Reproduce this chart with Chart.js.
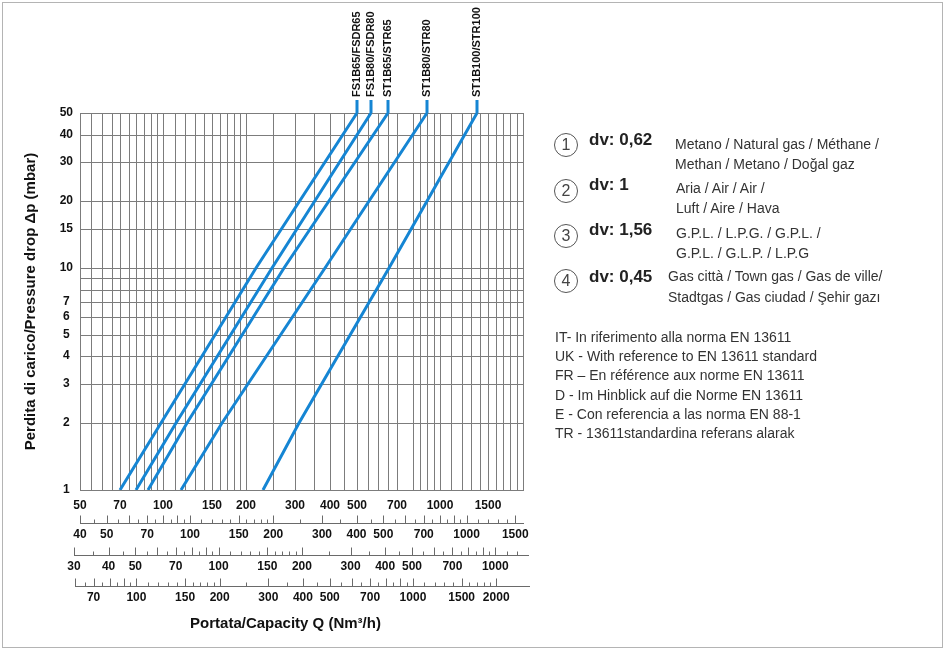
<!DOCTYPE html>
<html>
<head>
<meta charset="utf-8">
<script src="https://cdn.jsdelivr.net/npm/chart.js@4.4.1/dist/chart.umd.min.js"></script>
<style>
  body { margin: 0; background: #fff; }
  #wrap { position: relative; width: 946px; height: 652px; overflow: hidden;
          font-family: "Liberation Sans", Arial, sans-serif; color: #333; }
  #c { position: absolute; left: 0; top: 0; }
  .frame { position: absolute; left: 2px; top: 2px; width: 941px; height: 646px;
           border: 1px solid #b4b4b4; box-sizing: border-box; }
  .circ { position: absolute; left: 554px; width: 24px; height: 24px; border: 1px solid #555;
          border-radius: 50%; box-sizing: border-box; font-size: 16px; line-height: 22px;
          text-align: center; color: #444; }
  .dv { position: absolute; left: 589px; font-weight: bold; font-size: 17px; line-height: 20px; color: #222; white-space: nowrap; }
  .desc { position: absolute; font-size: 14px; line-height: 20px; color: #333; white-space: nowrap; }
  .norm { position: absolute; left: 555px; top: 328px; font-size: 14px; line-height: 19.2px; color: #333; white-space: nowrap; }
</style>
</head>
<body>
<div id="wrap">
  <canvas id="c" width="946" height="652"></canvas>
  <div class="frame"></div>

  <div class="circ" style="top:133px">1</div>
  <div class="dv" style="top:130px">dv: 0,62</div>
  <div class="desc" style="left:675px;top:134px">Metano / Natural gas / Méthane /<br>Methan / Metano / Doğal gaz</div>

  <div class="circ" style="top:179px">2</div>
  <div class="dv" style="top:175px">dv: 1</div>
  <div class="desc" style="left:676px;top:178px">Aria / Air / Air /<br>Luft / Aire / Hava</div>

  <div class="circ" style="top:224px">3</div>
  <div class="dv" style="top:220px">dv: 1,56</div>
  <div class="desc" style="left:676px;top:223px">G.P.L. / L.P.G. / G.P.L. /<br>G.P.L. / G.L.P. / L.P.G</div>

  <div class="circ" style="top:269px">4</div>
  <div class="dv" style="top:267px">dv: 0,45</div>
  <div class="desc" style="left:668px;top:266px;line-height:21px">Gas città / Town gas / Gas de ville/<br>Stadtgas / Gas ciudad / Şehir gazı</div>

  <div class="norm">IT- In riferimento alla norma EN 13611<br>UK - With reference to EN 13611 standard<br>FR – En référence aux norme EN 13611<br>D - Im Hinblick auf die Norme EN 13611<br>E - Con referencia a las norma EN 88-1<br>TR - 13611standardina referans alarak</div>
</div>

<script>
// ---------------- data ----------------
const pressureDrop = [1, 2, 10, 50];                 // mbar, y values of the read points
const seriesNames = ['FS1B65/FSDR65', 'FS1B80/FSDR80', 'ST1B65/STR65', 'ST1B80/STR80', 'ST1B100/STR100'];
const qFS1B65  = [70, 98, 217, 500];                 // Nm3/h (natural gas scale)
const qFS1B80  = [80, 111, 247, 565];
const qST1B65  = [88, 122, 273, 652];
const qST1B80  = [116, 163, 386, 900];
const qST1B100 = [229, 311, 655, 1360];

// y axis
const yGrid   = [1, 2, 3, 4, 5, 6, 7, 8, 9, 10, 15, 20, 30, 40, 50];
const yLabels = [1, 2, 3, 4, 5, 6, 7, 10, 15, 20, 30, 40, 50];

// main (natural gas) x axis
const qGrid = [50, 55, 60, 65, 70, 75, 80, 85, 90, 95, 100, 110, 120, 130, 140, 150, 160, 170, 180, 190, 200,
               250, 300, 350, 400, 450, 500, 550, 600, 650, 700, 800, 850, 900, 950, 1000,
               1100, 1200, 1300, 1400, 1500, 1600, 1700, 1800, 1900, 2000];
const qLabels = [50, 70, 100, 150, 200, 300, 400, 500, 700, 1000, 1500];

// secondary scales (air, LPG, town gas)
const airLabels = [40, 50, 70, 100, 150, 200, 300, 400, 500, 700, 1000, 1500];
const airMajor  = [40, 50, 60, 70, 80, 90, 100, 150, 200, 300, 400, 500, 600, 700, 800, 900, 1000, 1500];
const airMinor  = [45, 55, 65, 75, 85, 95, 110, 120, 130, 140, 160, 170, 180, 190, 250, 350, 450, 550, 650, 750, 850, 950, 1100, 1200, 1300, 1400];

const lpgLabels = [30, 40, 50, 70, 100, 150, 200, 300, 400, 500, 700, 1000];
const lpgMajor  = [30, 40, 50, 60, 70, 80, 90, 100, 150, 200, 300, 400, 500, 600, 700, 800, 900, 1000];
const lpgMinor  = [35, 45, 55, 65, 75, 85, 95, 110, 120, 130, 140, 160, 170, 180, 190, 250, 350, 450, 550, 650, 750, 850, 950, 1100, 1200];

const townLabels = [70, 100, 150, 200, 300, 400, 500, 700, 1000, 1500, 2000];
const townMajor  = [60, 70, 80, 90, 100, 150, 200, 300, 400, 500, 600, 700, 800, 900, 1000, 1500, 2000];
const townMinor  = [65, 75, 85, 95, 110, 120, 130, 140, 160, 170, 180, 190, 250, 350, 450, 550, 650, 750, 850, 950, 1100, 1200, 1300, 1400, 1600, 1700, 1800, 1900];

// scale ratios of the secondary rulers against the main one
const airFactor = 0.8, lpgFactor = 0.63, townFactor = 1.25;
const qMin = 50, qMax = 2000;

// ---------------- chart ----------------
const FONT = '"Liberation Sans", Arial, sans-serif';
const gridColor = '#7c7c7c';
const lineColor = '#1585d3';
const seriesQ = [qFS1B65, qFS1B80, qST1B65, qST1B80, qST1B100];

const setTicks = vals => s => { s.ticks = vals.map(v => ({ value: v })); };
const showIf = list => v => (list.includes(v) ? String(v) : '');
const fixH = h => s => { s.height = h; };
const tickFont = { family: FONT, size: 12, weight: 'bold' };

function rulerAxis(weight, min, max, labels, h) {
  return {
    type: 'logarithmic', position: 'bottom', weight, min, max, bounds: 'data',
    afterBuildTicks: setTicks(labels), afterFit: fixH(h),
    grid: { display: false, drawTicks: false }, border: { display: false },
    ticks: { autoSkip: false, maxRotation: 0, padding: 15, color: '#111', font: tickFont,
             callback: v => String(v) }
  };
}

const rulers = [
  { id: 'x2', major: airMajor, minor: airMinor, from: 40, ext: 1 },
  { id: 'x3', major: lpgMajor, minor: lpgMinor, from: 30, ext: 6 },
  { id: 'x4', major: townMajor, minor: townMinor, from: 60, ext: 7 }
];

const rulerPlugin = {
  id: 'rulers',
  afterLayout(chart) {
    const x = chart.scales.x;
    // LPG ruler starts at 30, a little left of the plot, as printed
    const s3 = chart.scales.x3;
    s3.left = x.getPixelForValue(s3.options.min / lpgFactor);
    s3.configure();
    // axis title centred under the rulers as in the print
    const t = chart.scales.xt;
    t.left = 285.5 - 200; t.right = 285.5 + 200;
    t.configure();
  },
  afterDraw(chart) {
    const ctx = chart.ctx;
    ctx.save();
    ctx.strokeStyle = '#6a6a6a';
    ctx.lineWidth = 1;
    rulers.forEach(r => {
      const s = chart.scales[r.id];
      const base = Math.round(s.top + 11) + 0.5;
      ctx.beginPath();
      ctx.moveTo(Math.round(s.getPixelForValue(r.from)), base);
      ctx.lineTo(chart.chartArea.right + r.ext, base);
      r.major.forEach(v => { const p = Math.round(s.getPixelForValue(v)) + 0.5; ctx.moveTo(p, base); ctx.lineTo(p, base - 8); });
      r.minor.forEach(v => { const p = Math.round(s.getPixelForValue(v)) + 0.5; ctx.moveTo(p, base); ctx.lineTo(p, base - 4); });
      ctx.stroke();
    });
    ctx.restore();

    // vertical lead-outs and model names above each curve
    const top = chart.chartArea.top;
    chart.data.datasets.forEach((ds, i) => {
      const pts = chart.getDatasetMeta(i).data;
      const px = pts[pts.length - 1].x;
      ctx.save();
      ctx.strokeStyle = ds.borderColor;
      ctx.lineWidth = 3;
      ctx.beginPath();
      ctx.moveTo(px, top);
      ctx.lineTo(px, top - 13);
      ctx.stroke();
      ctx.translate(px, top - 16);
      ctx.rotate(-Math.PI / 2);
      ctx.font = 'bold 11px ' + FONT;
      ctx.fillStyle = '#111';
      ctx.textAlign = 'left';
      ctx.textBaseline = 'middle';
      ctx.fillText(ds.label, 0, 0);
      ctx.restore();
    });
  }
};

new Chart(document.getElementById('c'), {
  type: 'line',
  data: {
    datasets: seriesNames.map((name, i) => ({
      label: name,
      data: pressureDrop.map((p, j) => ({ x: seriesQ[i][j], y: p })),
      borderColor: lineColor,
      borderWidth: 3,
      pointRadius: 0,
      fill: false,
      tension: 0
    }))
  },
  options: {
    responsive: false,
    animation: false,
    devicePixelRatio: 1,
    layout: { padding: { left: 0, top: 113, right: 423, bottom: 15 } },
    plugins: { legend: { display: false }, tooltip: { enabled: false } },
    scales: {
      x: {
        type: 'logarithmic', position: 'bottom', weight: 0, min: qMin, max: qMax, bounds: 'data',
        alignToPixels: true,
        afterBuildTicks: setTicks(qGrid), afterFit: fixH(22),
        grid: { color: gridColor, lineWidth: 1, drawTicks: false },
        border: { color: gridColor, width: 1 },
        ticks: { autoSkip: false, maxRotation: 0, padding: 8, color: '#111', font: tickFont,
                 callback: showIf(qLabels) }
      },
      x2: rulerAxis(1, qMin * airFactor, qMax * airFactor, airLabels, 32),
      x3: rulerAxis(2, 30, qMax * lpgFactor, lpgLabels, 31),
      x4: rulerAxis(3, qMin * townFactor, qMax * townFactor, townLabels, 30),
      xt: {
        type: 'linear', position: 'bottom', weight: 4, min: 0, max: 1,
        afterFit: fixH(32),
        grid: { display: false, drawTicks: false }, border: { display: false },
        ticks: { display: false },
        title: { display: true, text: 'Portata/Capacity Q (Nm³/h)', color: '#111',
                 font: { family: FONT, size: 15, weight: 'bold' }, padding: { top: 0, bottom: 4 } }
      },
      y: {
        type: 'logarithmic', position: 'left', min: 1, max: 50, bounds: 'data',
        alignToPixels: true,
        afterBuildTicks: setTicks(yGrid), afterFit: s => { s.width = 80; },
        grid: { color: gridColor, lineWidth: 1, drawTicks: false },
        border: { color: gridColor, width: 1 },
        ticks: { autoSkip: false, padding: 7, crossAlign: 'center', color: '#111', font: tickFont,
                 callback: showIf(yLabels) },
        title: { display: true, text: 'Perdita di carico/Pressure drop Δp (mbar)', color: '#111',
                 font: { family: FONT, size: 15, weight: 'bold' }, padding: { top: 22, bottom: 0 } }
      }
    }
  },
  plugins: [rulerPlugin]
});
</script>
</body>
</html>
